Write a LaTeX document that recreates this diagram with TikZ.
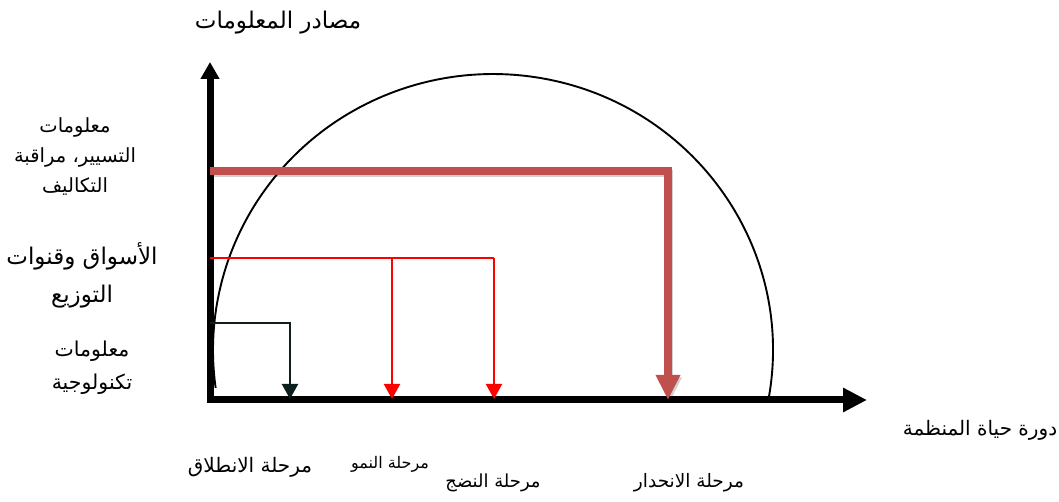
\documentclass[tikz,border=0pt]{standalone}
\usepackage{fontspec}
\newfontfamily\arabicfont[Script=Arabic]{DejaVu Sans}
\TeXXeTstate=1
\usetikzlibrary{arrows.meta,positioning}
\definecolor{brick}{HTML}{C0504D}
\definecolor{nearblack}{HTML}{0C1E1E}
\newcommand{\arline}[1]{\beginR#1\endR}

\begin{document}
\begin{tikzpicture}[x=1pt, y=1pt,
    axisline/.style={line width=7pt, line cap=rect},
    flow/.style={line width=2.2pt, -{Triangle[length=15pt,width=16pt]}},
    mainflow/.style={brick, line width=7.5pt, -{Triangle[length=25pt,width=23pt]}},
    txt/.style={font=\arabicfont, align=center, inner sep=0pt}]
    \useasboundingbox (0,0) rectangle (1059,502);

    % axes
    \coordinate (O) at (210,102);
    \coordinate (ytip) at (210,440);
    \coordinate (xtip) at (867,102);
    \draw[axisline, -{Triangle[length=24pt,width=23pt]}] (O) -- (xtip);
    \draw[axisline, -{Triangle[length=17pt,width=18pt]}] (O) -- (ytip);

    % life cycle curve
    \coordinate (arcR) at (768.9,105);
    \draw[line width=1.9pt] (arcR) arc[start angle=-9.8, end angle=187.9, x radius=280, y radius=276];

    % technology info
    \coordinate (techL) at (210,179);
    \coordinate (techC) at (290,179);
    \coordinate (techE) at (290,103);
    \draw[flow, nearblack] (techL) -- (techC) -- (techE);

    % markets and distribution
    \coordinate (mktL) at (210,244);
    \coordinate (mktA) at (392,244);
    \coordinate (mktB) at (494,244);
    \coordinate (mktAE) at (392,103);
    \coordinate (mktBE) at (494,103);
    \draw[red, line width=2.2pt] (mktL) -- (mktB);
    \draw[flow, red] (mktA) -- (mktAE);
    \draw[flow, red] (mktB) -- (mktBE);

    % management and cost info
    \coordinate (mgtL) at (210,331);
    \coordinate (mgtC) at (668,331);
    \coordinate (mgtE) at (668,102);
    \draw[mainflow, black, opacity=.18, transform canvas={shift={(1.5pt,-2.5pt)}}] (mgtL) -- (mgtC) -- (mgtE);
    \draw[mainflow] (mgtL) -- (mgtC) -- (mgtE);

    % axis titles
    \node[txt, font=\arabicfont\fontsize{23}{26}\selectfont] (sources) at (278,479) {\arline{مصادر المعلومات}};
    \node[txt, font=\arabicfont\fontsize{20}{24}\selectfont] (cycle) at (980,72) {\arline{دورة حياة المنظمة}};

    % sources
    \node[txt, font=\arabicfont\fontsize{19.5}{30}\selectfont] (mgtinfo) at (75,345)
        {\arline{معلومات}\\\arline{التسيير، مراقبة}\\\arline{التكاليف}};
    \node[txt, font=\arabicfont\fontsize{23}{38}\selectfont] (mktinfo) at (82,227)
        {\arline{الأسواق وقنوات}\\\arline{التوزيع}};
    \node[txt, font=\arabicfont\fontsize{20.5}{33}\selectfont] (techinfo) at (92,134)
        {\arline{معلومات}\\\arline{تكنولوجية}};

    % stages
    \node[txt, font=\arabicfont\fontsize{20}{24}\selectfont] (launch) at (250,35) {\arline{مرحلة الانطلاق}};
    \node[txt, font=\arabicfont\fontsize{16}{20}\selectfont] (growth) at (390,38) {\arline{مرحلة النمو}};
    \node[txt, font=\arabicfont\fontsize{18}{22}\selectfont] (mature) at (493,19) {\arline{مرحلة النضج}};
    \node[txt, font=\arabicfont\fontsize{18.5}{22}\selectfont] (decline) at (689,19) {\arline{مرحلة الانحدار}};
\end{tikzpicture}
\end{document}
